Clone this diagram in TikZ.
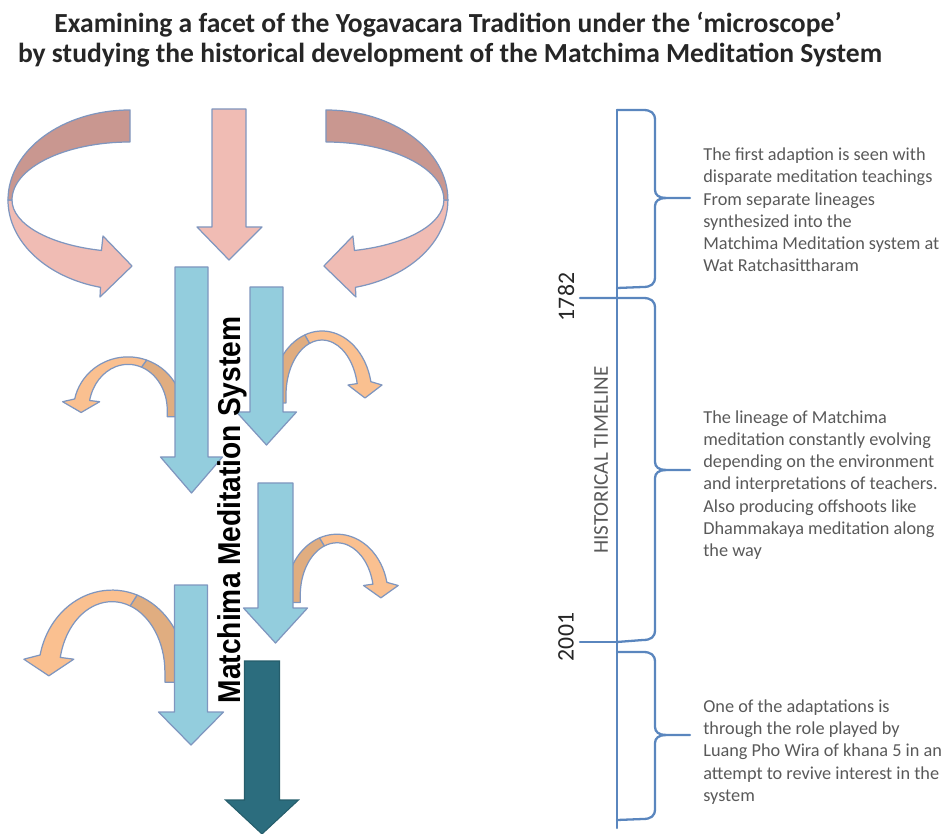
\documentclass[tikz,border=0pt]{standalone}
\usepackage{fontspec}
\setmainfont{Carlito}
\newfontfamily\mmsfont{Liberation Sans}
\definecolor{pinklight}{HTML}{F0BCB4}
\definecolor{pinkdark}{HTML}{C99790}
\definecolor{bluefill}{HTML}{93CDDD}
\definecolor{tealfill}{HTML}{2C6D7E}
\definecolor{orangelight}{HTML}{FAC090}
\definecolor{orangedark}{HTML}{E0AD80}
\definecolor{outl}{HTML}{7F96BF}
\definecolor{tlcol}{HTML}{5A86BE}
\definecolor{txtgray}{HTML}{595959}
\definecolor{titlecol}{HTML}{262626}
\newcommand\mydarrow[7][]{\filldraw[#1] ({#2-#3},-#4) -- ({#2+#3},-#4) -- ({#2+#3},-#5) -- ({#2+#6},-#5) -- (#2,-#7) -- ({#2-#6},-#5) -- ({#2-#3},-#5) -- cycle;}
\newcommand\mycurved{%
 \filldraw[fill=orangedark] (-50,-8) -- (-50,0) arc[start angle=180, end angle=110, x radius=50, y radius=64] -- ({36*cos(110)},{55*sin(110)}) arc[start angle=110, end angle=180, x radius=36, y radius=55] -- (-36,-8) -- cycle;
 \filldraw[fill=orangelight] ({50*cos(110)},{64*sin(110)}) arc[start angle=110, end angle=12, x radius=50, y radius=64] -- (60,10) -- (43,-3) -- (26,10) -- (35.2,11.4) arc[start angle=12, end angle=110, x radius=36, y radius=55] -- cycle;
}
\newcommand\mypink{%
 \filldraw[fill=pinklight] (8,-200) arc[start angle=180, end angle=256, x radius=122, y radius=90] -- (100,-297) -- (132,-266) -- (103,-236) -- (101.45,-250.46) arc[start angle=256, end angle=180, x radius=118, y radius=52] -- cycle;
 \filldraw[fill=pinkdark] (130,-110) arc[start angle=90, end angle=180, x radius=122, y radius=90] -- (12,-200) arc[start angle=180, end angle=90, x radius=118, y radius=58] -- cycle;
}
\tikzset{
  shapeline/.style={draw=outl, line width=0.7pt, line join=round},
  bluearrow/.style={shapeline, fill=bluefill},
  tealarrow/.style={draw=tealfill!85!black, line width=0.6pt, fill=tealfill},
  tlline/.style={draw=tlcol, line width=1.3pt, line cap=round, line join=round},
  titletext/.style={font=\bfseries\fontsize{15.7}{18}\selectfont, text=titlecol, anchor=base, inner sep=0pt},
  desc/.style={font=\fontsize{10.4}{12.65}\selectfont, text=txtgray, align=left, anchor=west, inner sep=0pt},
  year/.style={font=\fontsize{13.5}{14}\selectfont, text=titlecol, rotate=90, inner sep=0pt},
}
\begin{document}
\begin{tikzpicture}[x=0.02cm, y=0.02cm]
\useasboundingbox (0,0) rectangle (947,-834);
% title
\node[titletext] (title1) at (448,-33) {Examining a facet of the Yogavacara Tradition under the ‘microscope’};
\node[titletext] (title2) at (450,-63) {by studying the historical development of the Matchima Meditation System};
% pink arrows
\begin{scope}[shapeline]
\mypink
\end{scope}
\begin{scope}[shapeline, xshift=9.12cm, xscale=-1]
\mypink
\end{scope}
\filldraw[shapeline, fill=pinklight] (212,-109) -- (246,-109) -- (246,-227) -- (262,-227) -- (229,-260) -- (197,-227) -- (212,-227) -- cycle;
% orange curved arrows
\begin{scope}[shapeline, shift={(128,-410)}, xscale=-1.09, yscale=0.83]
\mycurved
\end{scope}
\begin{scope}[shapeline, shift={(322,-395)}]
\mycurved
\end{scope}
\begin{scope}[shapeline, shift={(337,-595)}, xscale=1.02, yscale=0.95]
\mycurved
\end{scope}
\begin{scope}[shapeline, shift={(112,-672)}, xscale=-1.47, yscale=1.28]
\mycurved
\end{scope}
% blue arrows
\mydarrow[bluearrow]{191.5}{16.5}{267}{457}{31}{493}
\mydarrow[bluearrow]{266.5}{16.5}{287}{412}{30}{445}
\mydarrow[bluearrow]{275.5}{17.5}{483}{608}{32}{643}
\mydarrow[bluearrow]{191}{16.5}{585}{712}{32.5}{745}
\mydarrow[tealarrow]{262}{17.5}{661}{800}{36.5}{834}
% vertical label
\node[font=\mmsfont\bfseries\fontsize{18}{18}\selectfont, rotate=90, inner sep=0pt] (mms) at (232,-510) {\scalebox{0.89}[1]{Matchima Meditation System}};
% timeline
\draw[tlline] (617,-110) -- (617,-828);
\draw[tlline] (617,-110) -- (643,-110) .. controls (651,-110) and (655,-113) .. (655,-120) -- (655,-190) .. controls (655,-195) and (659,-198) .. (666,-198) -- (690,-198);
\draw[tlline] (666,-198) .. controls (659,-198) and (655,-201) .. (655,-206) -- (655,-277) .. controls (655,-284) and (651,-287) .. (643,-287) -- (617,-288);
\draw[tlline] (580,-298) -- (643,-298) .. controls (651,-298) and (655,-301) .. (655,-308) -- (655,-462) .. controls (655,-467) and (659,-470) .. (666,-470) -- (690,-470);
\draw[tlline] (666,-470) .. controls (659,-470) and (655,-473) .. (655,-478) -- (655,-630) .. controls (655,-637) and (651,-640) .. (643,-640) -- (617,-642);
\draw[tlline] (580,-642) -- (617,-642);
\draw[tlline] (617,-652) -- (643,-652) .. controls (651,-652) and (655,-655) .. (655,-662) -- (655,-727) .. controls (655,-732) and (659,-735) .. (666,-735) -- (690,-735);
\draw[tlline] (666,-735) .. controls (659,-735) and (655,-738) .. (655,-743) -- (655,-809) .. controls (655,-816) and (651,-819) .. (643,-819) -- (617,-820);
\node[year] (y1782) at (566,-297) {1782};
\node[year] (y2001) at (566,-637) {2001};
\node[font=\fontsize{12}{12}\selectfont, text=txtgray, rotate=90, inner sep=0pt] (htl) at (601,-460) {HISTORICAL TIMELINE};
% descriptions
\node[desc] (d1) at (703,-210) {The first adaption is seen with\\disparate meditation teachings\\From separate lineages\\synthesized into the\\Matchima Meditation system at\\Wat Ratchasittharam};
\node[desc] (d2) at (703,-485) {The lineage of Matchima\\meditation constantly evolving\\depending on the environment\\and interpretations of teachers.\\Also producing offshoots like\\Dhammakaya meditation along\\the way};
\node[desc] (d3) at (703,-752) {One of the adaptations is\\through the role played by\\Luang Pho Wira of khana 5 in an\\attempt to revive interest in the\\system};
\end{tikzpicture}
\end{document}
